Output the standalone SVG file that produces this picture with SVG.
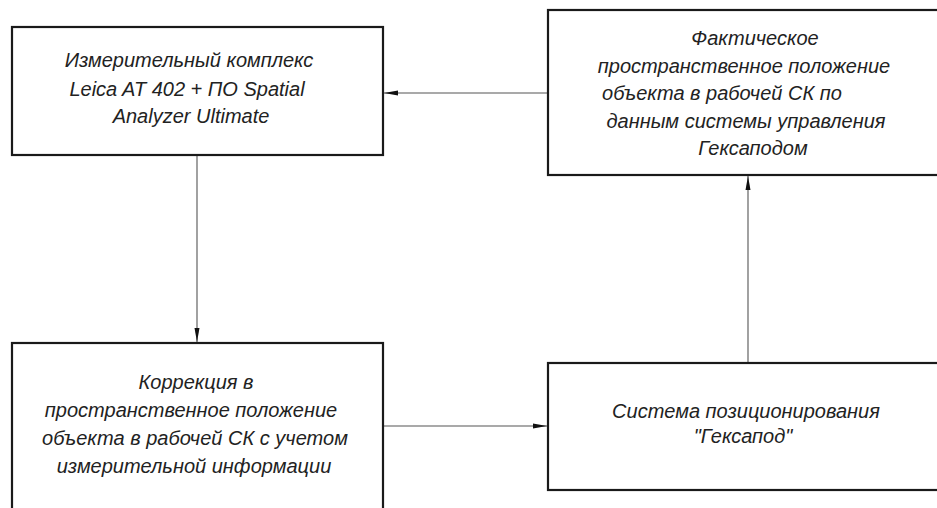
<svg xmlns="http://www.w3.org/2000/svg" width="937" height="508" viewBox="0 0 937 508">
<style>
.box{fill:#fff;stroke:#1a1a1a;stroke-width:2.2}
.t{font-family:"Liberation Sans","DejaVu Sans",sans-serif;font-style:italic;font-size:20px;fill:#222;text-anchor:middle}
.c{stroke:#555;stroke-width:1.1;fill:none}
</style>
<defs>
<marker id="ah" viewBox="0 0 14 6" refX="14" refY="3" markerWidth="14" markerHeight="6" markerUnits="userSpaceOnUse" orient="auto">
<path d="M0,0.5 L14,3 L0,5.5 Z" fill="#111"/>
</marker>
</defs>
<rect width="937" height="508" fill="#fff"/>
<g id="connectors">
<line class="c" x1="547" y1="93" x2="384" y2="93" marker-end="url(#ah)"/>
<line class="c" x1="197" y1="155" x2="197" y2="342" marker-end="url(#ah)"/>
<line class="c" x1="383" y1="426" x2="547" y2="426" marker-end="url(#ah)"/>
<line class="c" x1="748" y1="362" x2="748" y2="176" marker-end="url(#ah)"/>
</g>
<g id="node-measure">
<rect class="box" x="12" y="27" width="371" height="128"/>
<text class="t" x="189" y="67">Измерительный комплекс</text>
<text class="t" x="187" y="96">Leica AT 402 + ПО Spatial</text>
<text class="t" x="191" y="123">Analyzer Ultimate</text>
</g>
<g id="node-actual">
<rect class="box" x="548" y="10" width="400" height="165"/>
<text class="t" x="755" y="45">Фактическое</text>
<text class="t" x="744" y="73">пространственное положение</text>
<text class="t" x="722" y="100">объекта в рабочей СК по</text>
<text class="t" x="746" y="128">данным системы управления</text>
<text class="t" x="753" y="155">Гексаподом</text>
</g>
<g id="node-correction">
<rect class="box" x="12" y="343" width="371" height="180"/>
<text class="t" x="196" y="389">Коррекция в</text>
<text class="t" x="191" y="417">пространственное положение</text>
<text class="t" x="195" y="445">объекта в рабочей СК с учетом</text>
<text class="t" x="194" y="473">измерительной информации</text>
</g>
<g id="node-hexapod">
<rect class="box" x="548" y="363" width="400" height="127"/>
<text class="t" x="746" y="418">Система позиционирования</text>
<text class="t" x="743" y="443">"Гексапод"</text>
</g>
</svg>
